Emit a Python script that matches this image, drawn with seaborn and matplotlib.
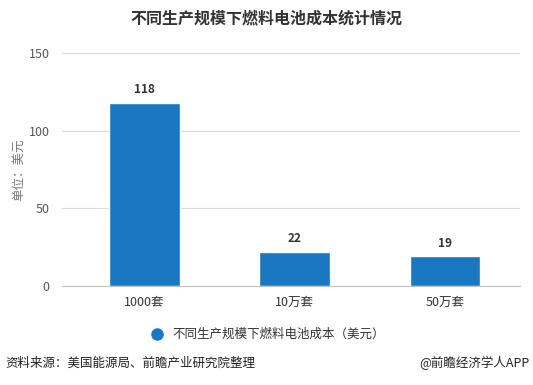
import matplotlib
matplotlib.use("Agg")
import matplotlib.pyplot as plt
import matplotlib.lines as mlines
import seaborn as sns
import pandas as pd

categories = ["1000套", "10万套", "50万套"]
values = [118, 22, 19]
series_name = "不同生产规模下燃料电池成本（美元）"
yticks = [0, 50, 100, 150]

sns.set_style("white")
plt.rcParams['font.family'] = ['Noto Sans CJK SC', 'DejaVu Sans']

df = pd.DataFrame({"cat": categories, "val": values})

fig = plt.figure(figsize=(5.33, 3.85), dpi=100)
ax = fig.add_axes([62/533, 1-286/385, (520-62)/533, (286-53)/385])

color = "#1a78c2"
sns.barplot(data=df, x="cat", y="val", color=color, width=0.47, ax=ax,
            saturation=1, zorder=3)

ax.set_ylim(0, 150)
ax.set_xlim(-0.55, 2.5)
ax.set_yticks(yticks)
ax.yaxis.grid(True, color="#d9d9d9", linewidth=0.8, zorder=0)
ax.set_axisbelow(True)
for s in ["top", "right", "left"]:
    ax.spines[s].set_visible(False)
ax.spines["bottom"].set_color("#bfbfbf")
ax.spines["bottom"].set_linewidth(0.8)
ax.tick_params(axis="x", length=4, color="#bfbfbf", labelsize=9, labelcolor="#333333", pad=3)
ax.tick_params(axis="y", length=0, labelsize=9, labelcolor="#555555", pad=9)
ax.set_xlabel("")
ax.set_ylabel("单位：美元", fontsize=9, color="#777777")
ax.yaxis.set_label_coords(-0.08, 0.5)

for i, v in enumerate(values):
    ax.annotate(str(v), (i, v), xytext=(0, 5), textcoords="offset points",
                ha="center", va="bottom", fontsize=8.5, fontweight="bold", color="#333333")

fig.text(0.5, 1-18/385, "不同生产规模下燃料电池成本统计情况", ha="center", va="center",
         fontsize=11.5, fontweight="bold", color="#333333")

# legend
fig.lines.append(mlines.Line2D([157/533], [1-334/385], marker="o", markersize=8,
                               color=color, transform=fig.transFigure, linestyle="none"))
fig.text(172/533, 1-334/385, series_name, ha="left", va="center", fontsize=9, color="#333333")

fig.text(5/533, 1-363/385, "资料来源：美国能源局、前瞻产业研究院整理", ha="left", va="center",
         fontsize=9, color="#222222")
fig.text(530/533, 1-363/385, "@前瞻经济学人APP", ha="right", va="center",
         fontsize=9, color="#222222")

fig.savefig("out.png", dpi=100)
